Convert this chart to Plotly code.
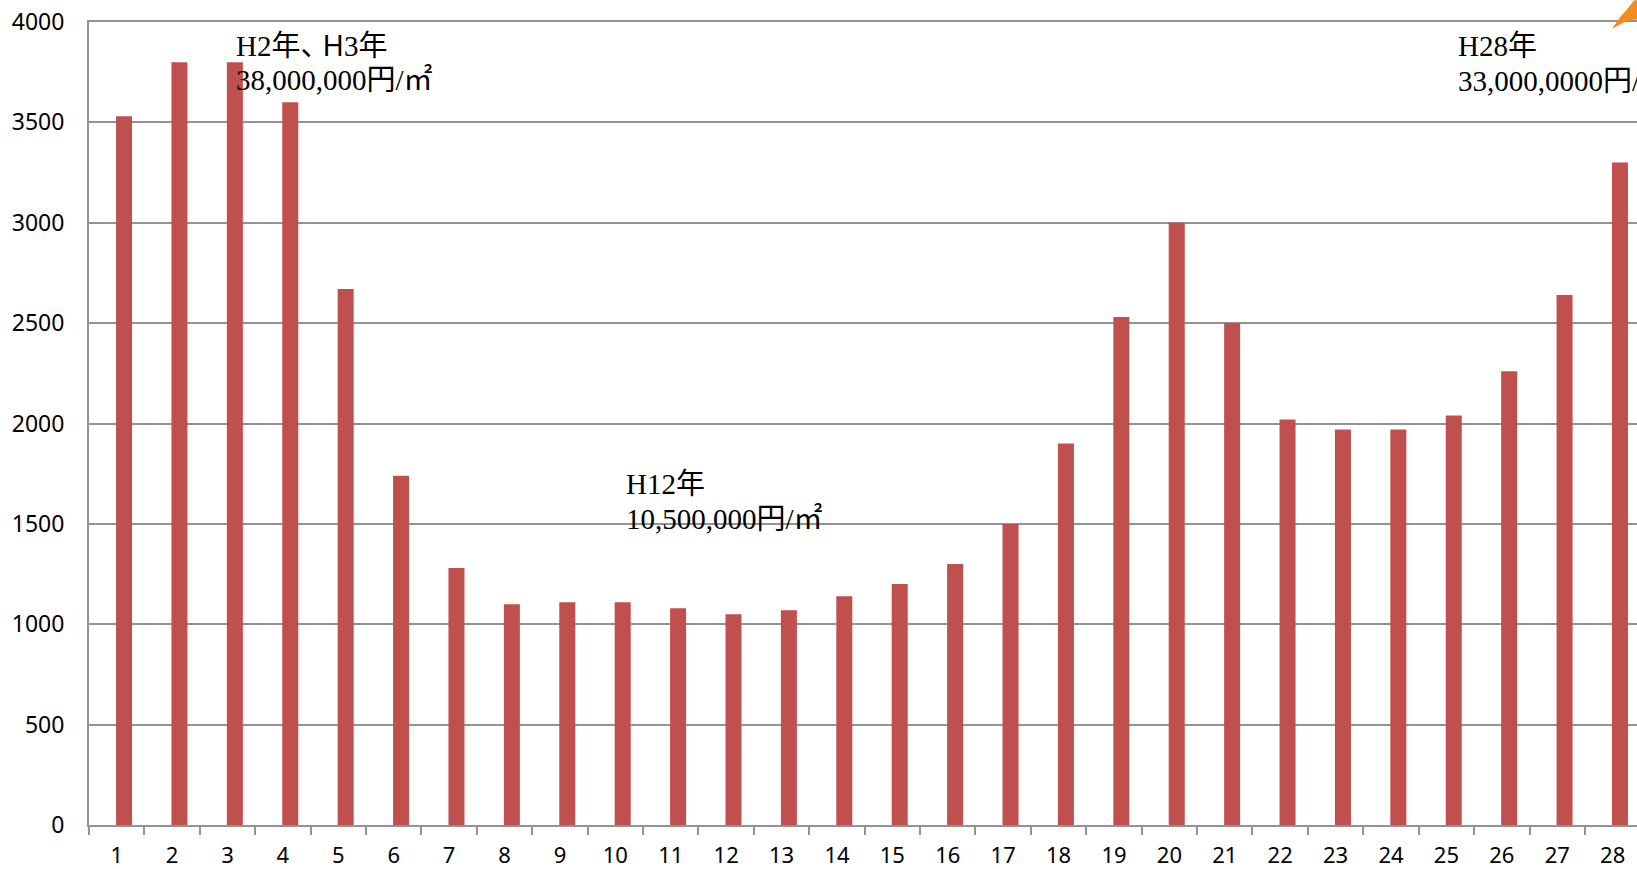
import plotly.graph_objects as go

categories = [str(i) for i in range(1, 29)]
values = [3530, 3800, 3800, 3600, 2670, 1740, 1280, 1100, 1110, 1110, 1080, 1050, 1070, 1140,
          1200, 1300, 1500, 1900, 2530, 3000, 2500, 2020, 1970, 1970, 2040, 2260, 2640, 3300]
y_ticks = [0, 500, 1000, 1500, 2000, 2500, 3000, 3500, 4000]
notes = [
    ('H2年<span style="letter-spacing:-7px">、</span><span style="font-family:Noto Sans">H</span>3年', 233.5, 3889),
    ("38,000,000円/㎡", 233.5, 3712),
    ("H12年", 624, 1700),
    ("10,500,000円/㎡", 624, 1523),
    ("H28年", 1456, 3879),
    ("33,000,0000円/㎡", 1456, 3707),
]

W, H = 1637, 869
L, T, B = 89, 21.7, 824.7
GREY = "#939393"
SERIF = "'Liberation Serif', 'Noto Sans CJK JP', serif"

fig = go.Figure(go.Bar(x=categories, y=values, width=0.289, offset=-0.012,
                       marker=dict(color="#C0504D", line=dict(width=0))))

annotations = [dict(text=t, xref="paper", yref="y", x=(px - L) / (W - L), y=v,
                    xanchor="left", yanchor="middle", align="left", showarrow=False,
                    font=dict(family=SERIF, size=29, color="#000000"))
               for t, px, v in notes]

def px_x(p):
    return (p - L) / (W - L)

def px_y(p):
    return (B - p) / (B - T)

arrow_points = [(1612, 28.5), (1620, 17), (1627, 9), (1631, 4), (1634, 0), (1637, 0),
                (1637, 19), (1630, 20), (1624, 22), (1617, 26)]
arrow = "M " + " L ".join(f"{px_x(x)} {px_y(y)}" for x, y in arrow_points) + " Z"

fig.update_layout(
    width=W, height=H, autosize=False, showlegend=False,
    paper_bgcolor="white", plot_bgcolor="white",
    margin=dict(l=L, r=0, t=T, b=H - B, pad=0, autoexpand=False),
    font=dict(family="'Noto Sans', sans-serif", size=23, color="#000000"),
    annotations=annotations,
    shapes=[dict(type="path", xref="paper", yref="paper", path=arrow,
                 fillcolor="#F58A1F", line=dict(width=0), layer="above")],
    xaxis=dict(type="category", range=[-0.5, 27.44], tickson="boundaries",
               ticks="outside", ticklen=8, tickcolor=GREY, tickwidth=2,
               showline=True, linecolor=GREY, linewidth=2, mirror=True, automargin=False,
               showgrid=False, tickfont=dict(size=22), tickangle=0, ticklabelstandoff=10),
    yaxis=dict(range=[0, 4000], tickvals=y_ticks, ticks="inside", ticklen=8,
               tickcolor=GREY, tickwidth=2, showline=True, linecolor=GREY, linewidth=2,
               showgrid=True, gridcolor=GREY, gridwidth=2, zeroline=False, automargin=False,
               tickfont=dict(size=23), ticklabelstandoff=18),
)

fig.write_html("out.html", config={"displayModeBar": False},
               post_script="document.body.style.margin='0';")
